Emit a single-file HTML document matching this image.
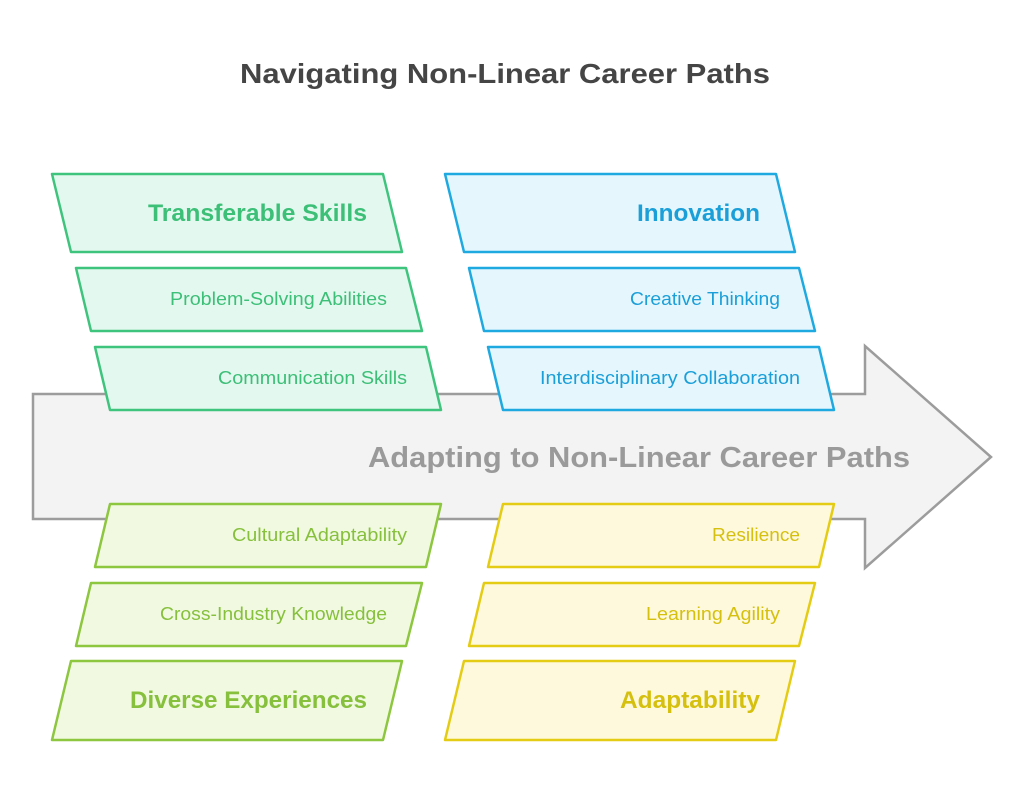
<!DOCTYPE html>
<html><head><meta charset="utf-8"><style>
html,body{margin:0;padding:0;background:#fff;}
svg{display:block;font-family:"Liberation Sans",Arial,sans-serif;}
</style></head><body>
<svg width="1024" height="804" viewBox="0 0 1024 804" xmlns="http://www.w3.org/2000/svg">
<text x="240" y="83" font-size="28" font-weight="bold" fill="#454545" textLength="530" lengthAdjust="spacingAndGlyphs">Navigating Non-Linear Career Paths</text>
<polygon points="33,394 865,394 865,346 991,457 865,568 865,519 33,519" fill="#f3f3f3" stroke="#9c9c9c" stroke-width="2.5"/>
<text x="368" y="467" font-size="29" font-weight="bold" fill="#9a9a9a" textLength="542" lengthAdjust="spacingAndGlyphs">Adapting to Non-Linear Career Paths</text>
<g stroke-width="2.5" stroke-linejoin="round">
<polygon points="52,174 383,174 402,252 71,252" fill="#e3f9ef" stroke="#3fc47d"/>
<polygon points="76,268 406,268 422,331 91,331" fill="#e3f9ef" stroke="#3fc47d"/>
<polygon points="95,347 426,347 441,410 110,410" fill="#e3f9ef" stroke="#3fc47d"/>
<polygon points="445,174 776,174 795,252 464,252" fill="#e5f6fd" stroke="#1ea9e1"/>
<polygon points="469,268 799,268 815,331 484,331" fill="#e5f6fd" stroke="#1ea9e1"/>
<polygon points="488,347 819,347 834,410 503,410" fill="#e5f6fd" stroke="#1ea9e1"/>
<polygon points="110,504 441,504 426,567 95,567" fill="#f1fae1" stroke="#8dc63f"/>
<polygon points="91,583 422,583 406,646 76,646" fill="#f1fae1" stroke="#8dc63f"/>
<polygon points="71,661 402,661 383,740 52,740" fill="#f1fae1" stroke="#8dc63f"/>
<polygon points="503,504 834,504 819,567 488,567" fill="#fef9dc" stroke="#e5cc14"/>
<polygon points="484,583 815,583 799,646 469,646" fill="#fef9dc" stroke="#e5cc14"/>
<polygon points="464,661 795,661 776,740 445,740" fill="#fef9dc" stroke="#e5cc14"/>
</g>
<g lengthAdjust="spacingAndGlyphs">
<text x="148" y="221" font-size="24" font-weight="bold" fill="#3cbf77" textLength="219" lengthAdjust="spacingAndGlyphs">Transferable Skills</text>
<text x="170" y="305" font-size="18" fill="#3cbf77" textLength="217" lengthAdjust="spacingAndGlyphs">Problem-Solving Abilities</text>
<text x="218" y="384" font-size="18" fill="#3cbf77" textLength="189" lengthAdjust="spacingAndGlyphs">Communication Skills</text>
<text x="637" y="221" font-size="24" font-weight="bold" fill="#1a9fd8" textLength="123" lengthAdjust="spacingAndGlyphs">Innovation</text>
<text x="630" y="305" font-size="18" fill="#1a9fd8" textLength="150" lengthAdjust="spacingAndGlyphs">Creative Thinking</text>
<text x="540" y="384" font-size="18" fill="#1a9fd8" textLength="260" lengthAdjust="spacingAndGlyphs">Interdisciplinary Collaboration</text>
<text x="232" y="541" font-size="18" fill="#86c03c" textLength="175" lengthAdjust="spacingAndGlyphs">Cultural Adaptability</text>
<text x="160" y="620" font-size="18" fill="#86c03c" textLength="227" lengthAdjust="spacingAndGlyphs">Cross-Industry Knowledge</text>
<text x="130" y="708" font-size="24" font-weight="bold" fill="#86c03c" textLength="237" lengthAdjust="spacingAndGlyphs">Diverse Experiences</text>
<text x="712" y="541" font-size="18" fill="#d6c00f" textLength="88" lengthAdjust="spacingAndGlyphs">Resilience</text>
<text x="646" y="620" font-size="18" fill="#d6c00f" textLength="134" lengthAdjust="spacingAndGlyphs">Learning Agility</text>
<text x="620" y="708" font-size="24" font-weight="bold" fill="#d6c00f" textLength="140" lengthAdjust="spacingAndGlyphs">Adaptability</text>
</g>
</svg>
</body></html>
